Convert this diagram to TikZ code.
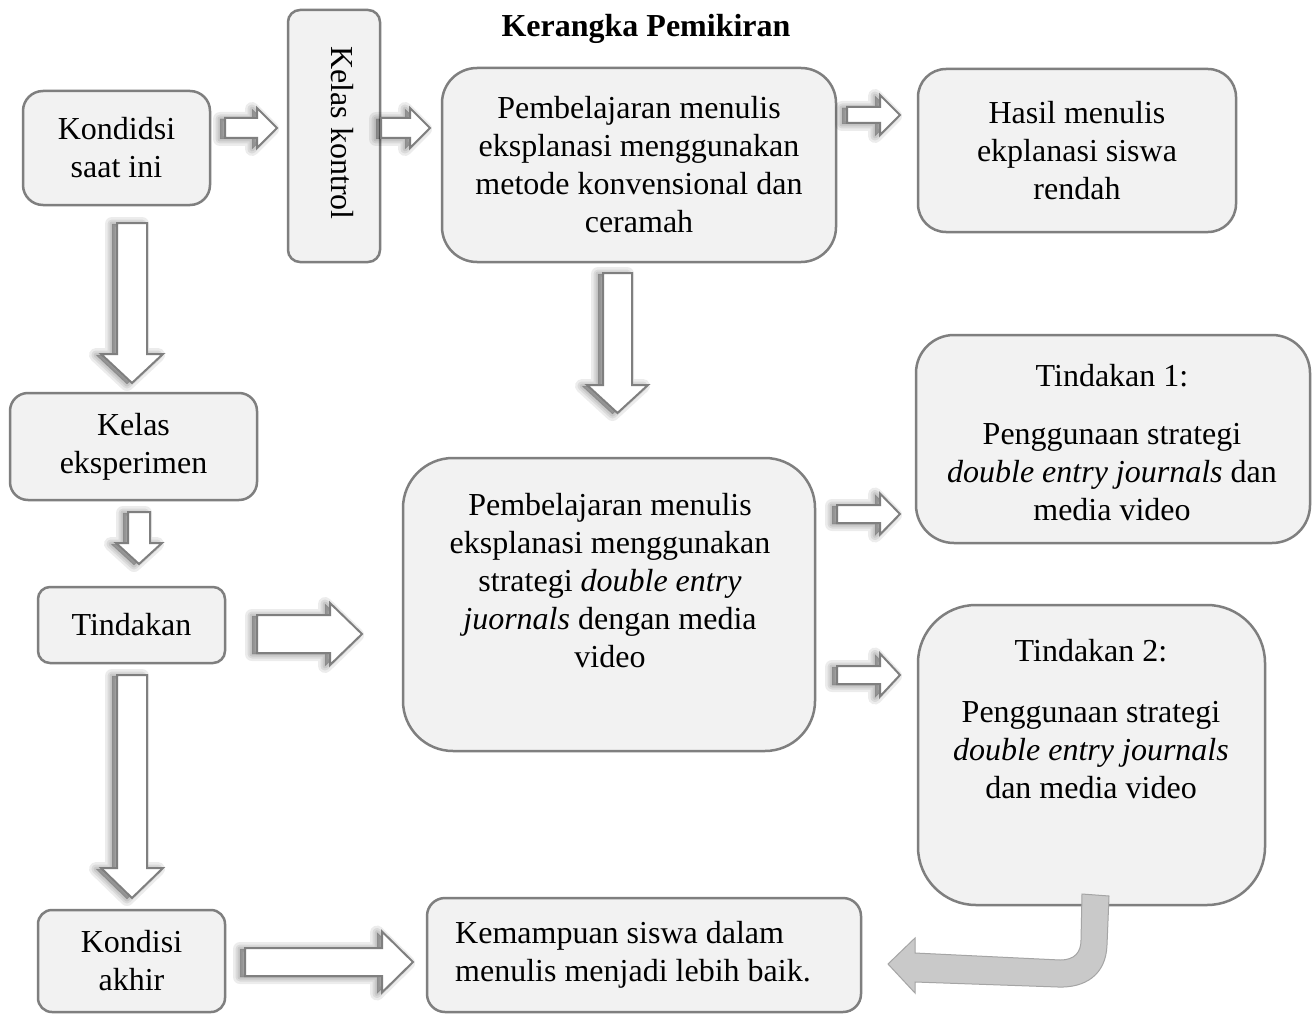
\documentclass[tikz,border=0pt]{standalone}
\usepackage{fontspec}
\setmainfont{Liberation Serif}
\definecolor{boxline}{HTML}{7F7F7F}
\definecolor{boxfill}{HTML}{F2F2F2}
\definecolor{curvefill}{HTML}{C9C9C9}
\definecolor{curveline}{HTML}{A5A5A5}
\tikzset{
  box/.style={draw=boxline, fill=boxfill, line width=2.5pt, inner sep=0pt},
  txt/.style={font=\fontsize{32}{38}\selectfont, align=center, inner sep=0pt},
  blk/.style={draw=boxline, fill=white, line width=2pt, line join=miter},
  shd/.style={fill=black, draw=black, opacity=0.075, line join=round},
}
% right block arrow: x0, xhead, xtip, ycentre, shaft half, head half
\newcommand\rarr[6]{%
  \foreach \w in {14,9,5,1}{%
    \path[shd, line width=\w pt, shift={(-5,1)}] ({#1},{#4-#5}) -- ({#2},{#4-#5}) -- ({#2},{#4-#6}) -- ({#3},{#4}) -- ({#2},{#4+#6}) -- ({#2},{#4+#5}) -- ({#1},{#4+#5}) -- cycle;}
  \path[blk] ({#1},{#4-#5}) -- ({#2},{#4-#5}) -- ({#2},{#4-#6}) -- ({#3},{#4}) -- ({#2},{#4+#6}) -- ({#2},{#4+#5}) -- ({#1},{#4+#5}) -- cycle;}
% down block arrow: xcentre, y0, yhead, ytip, shaft half, head half
\newcommand\darr[6]{%
  \foreach \w in {14,9,5,1}{%
    \path[shd, line width=\w pt, shift={(-5,1)}] ({#1-#5},{#2}) -- ({#1+#5},{#2}) -- ({#1+#5},{#3}) -- ({#1+#6},{#3}) -- ({#1},{#4}) -- ({#1-#6},{#3}) -- ({#1-#5},{#3}) -- cycle;}
  \path[blk] ({#1-#5},{#2}) -- ({#1+#5},{#2}) -- ({#1+#5},{#3}) -- ({#1+#6},{#3}) -- ({#1},{#4}) -- ({#1-#6},{#3}) -- ({#1-#5},{#3}) -- cycle;}
\begin{document}
\begin{tikzpicture}[x=1pt,y=-1pt]
\useasboundingbox (0,0) rectangle (1314,1014);
\fill[white] (0,0) rectangle (1314,1014);

\node[txt, font=\fontsize{32}{38}\selectfont\bfseries] (title) at (646,29) {Kerangka Pemikiran};

% boxes
\node[box, txt, minimum width=187pt, minimum height=114pt, rounded corners=20pt] (A) at (116.5,148) {Kondidsi\\saat ini};
\node[box, minimum width=92pt, minimum height=252pt, rounded corners=12pt] (K) at (334,136) {};
\node[txt, rotate=-90] (Kt) at (342,133) {Kelas kontrol};
\node[box, txt, minimum width=394pt, minimum height=194pt, rounded corners=35pt] (B) at (639,165) {Pembelajaran menulis\\eksplanasi menggunakan\\metode konvensional dan\\ceramah};
\node[box, txt, minimum width=318pt, minimum height=163pt, rounded corners=28pt] (C) at (1077,150.5) {Hasil menulis\\ekplanasi siswa\\rendah};
\node[box, txt, minimum width=247pt, minimum height=107pt, rounded corners=18pt] (E) at (133.5,446.5) {Kelas\\eksperimen};
\node[box, txt, minimum width=187pt, minimum height=76pt, rounded corners=12pt] (T) at (131.5,625) {Tindakan};
\node[box, minimum width=412pt, minimum height=293pt, rounded corners=50pt] (D) at (609,604.5) {};
\node[txt] (Dt) at (610,581) {Pembelajaran menulis\\eksplanasi menggunakan\\strategi \textit{double entry}\\\textit{juornals} dengan media\\video};
\node[box, minimum width=394pt, minimum height=208pt, rounded corners=38pt] (T1) at (1113,439) {};
\node[txt] (T1t) at (1112,443) {Tindakan 1:\\[20pt]Penggunaan strategi\\\textit{double entry journals} dan\\media video};
\node[box, minimum width=347pt, minimum height=300pt, rounded corners=58pt] (T2) at (1091.5,755) {};
\node[txt] (T2t) at (1091,719) {Tindakan 2:\\[23pt]Penggunaan strategi\\\textit{double entry journals}\\dan media video};
\node[box, txt, minimum width=187pt, minimum height=102pt, rounded corners=14pt] (F) at (131.5,961) {Kondisi\\akhir};
\node[box, minimum width=434pt, minimum height=114pt, rounded corners=18pt] (G) at (644,955) {};
\node[txt, align=left, anchor=west] (Gt) at (455,955) {Kemampuan siswa dalam\\menulis menjadi lebih baik.};

% block arrows
\rarr{225}{257}{277}{128}{10}{20}
\rarr{381}{410}{430}{128}{10}{20}
\rarr{847}{880}{900}{115}{8}{20}
\darr{132}{223}{354}{383}{15}{31}
\darr{139}{512}{543}{564}{11}{23}
\darr{132}{675}{868}{898}{15}{31}
\rarr{257}{330}{362}{634}{19}{31}
\darr{617.5}{273}{385}{413}{14.5}{30.5}
\rarr{837}{880}{900}{514}{9}{20.5}
\rarr{837}{880}{900}{675}{9}{21.5}
\rarr{245}{382}{413}{962}{14}{30.5}

% curved return arrow
\path[fill=curvefill, draw=curveline, line width=1pt, line join=miter]
  (1082,894) -- (1109,896) -- (1107,945)
  .. controls (1106,975) and (1085,988) .. (1058,987)
  -- (915,982) -- (915,993) -- (888,964) -- (915,938) -- (915,953)
  -- (1060,960) .. controls (1075,960) and (1081,952) .. (1081,940) -- cycle;
\end{tikzpicture}
\end{document}
